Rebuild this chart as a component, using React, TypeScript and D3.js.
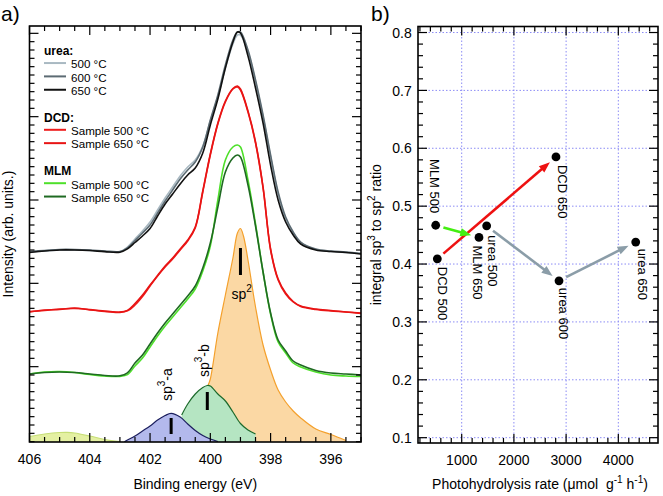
import React from 'react';
import * as d3 from 'd3';

// ---------- Panel a: XPS N1s spectra ----------
const energyGrid = [406, 405.5, 405, 404.5, 404, 403.5, 403, 402.75, 402.5, 402.25, 402, 401.75, 401.5, 401.25, 401, 400.75, 400.5, 400.25, 400, 399.75, 399.5, 399.25, 399.1, 399, 398.75, 398.5, 398.25, 398, 397.75, 397.5, 397.25, 397, 396.5, 396, 395.5, 395];

const urea500 = [2376, 2388, 2400, 2400, 2394, 2382, 2380, 2436, 2532, 2628, 2736, 2880, 3024, 3156, 3288, 3396, 3480, 3648, 3948, 4236, 4584, 4872, 4980, 4980, 4776, 4416, 3996, 3516, 3072, 2772, 2604, 2484, 2406, 2382, 2370, 2358];
const urea600 = [2382, 2394, 2406, 2406, 2400, 2388, 2382, 2426, 2514, 2604, 2700, 2844, 2988, 3120, 3252, 3360, 3456, 3636, 3960, 4260, 4620, 4920, 5016, 5016, 4800, 4440, 4020, 3540, 3096, 2796, 2616, 2496, 2412, 2388, 2376, 2358];
const urea650 = [2370, 2388, 2400, 2400, 2394, 2380, 2374, 2414, 2490, 2568, 2658, 2808, 2952, 3072, 3192, 3300, 3384, 3564, 3900, 4212, 4584, 4896, 5016, 5004, 4728, 4344, 3924, 3420, 3000, 2736, 2580, 2472, 2400, 2382, 2370, 2352];
const dcd500 = [1662, 1674, 1692, 1698, 1686, 1662, 1652, 1670, 1740, 1842, 1968, 2088, 2196, 2292, 2400, 2508, 2664, 3096, 3540, 3912, 4176, 4332, 4356, 4320, 4056, 3684, 3144, 2400, 2040, 1872, 1776, 1722, 1686, 1668, 1656, 1638];
const dcd650 = [1656, 1680, 1686, 1704, 1680, 1668, 1654, 1676, 1758, 1860, 1980, 2094, 2208, 2304, 2412, 2520, 2676, 3108, 3552, 3924, 4188, 4338, 4368, 4332, 4068, 3696, 3156, 2412, 2052, 1884, 1782, 1728, 1692, 1674, 1656, 1644];
const mlm500 = [912, 936, 942, 930, 906, 888, 884, 904, 1008, 1104, 1236, 1368, 1488, 1596, 1704, 1812, 1932, 2148, 2448, 3000, 3480, 3636, 3660, 3636, 3240, 2712, 2136, 1632, 1296, 1164, 1044, 996, 936, 900, 888, 882];
const mlm650 = [912, 930, 936, 930, 912, 894, 890, 926, 1044, 1140, 1272, 1404, 1524, 1632, 1740, 1848, 1968, 2184, 2484, 2916, 3336, 3504, 3540, 3516, 3180, 2688, 2136, 1644, 1320, 1188, 1068, 1020, 954, 924, 912, 900];

// fitted components
const sp2Energy = [400.07, 400, 399.75, 399.5, 399.25, 399.1, 399, 398.9, 398.75, 398.5, 398.25, 398, 397.75, 397.5, 397.25, 397, 396.5, 396, 395.5];
const sp2Intensity = [780, 852, 1404, 1860, 2304, 2604, 2658, 2568, 2280, 1716, 1260, 960, 720, 576, 468, 384, 252, 186, 114];
const sp3bEnergy = [400.95, 400.75, 400.5, 400.25, 400.1, 400, 399.75, 399.5, 399.25, 399, 398.75, 398.5];
const sp3bIntensity = [420, 552, 672, 750, 774, 768, 672, 588, 456, 318, 240, 192];
const sp3aEnergy = [402.85, 402.75, 402.5, 402.25, 402, 401.75, 401.5, 401.3, 401, 400.75, 400.5, 400.25, 400, 399.75];
const sp3aIntensity = [100, 120, 168, 228, 288, 360, 414, 440, 396, 312, 234, 174, 132, 102];
const satEnergy = [406, 405.5, 405, 404.75, 404.5, 404, 403.5, 403];
const satIntensity = [162, 192, 210, 212, 204, 168, 126, 100];
const peakEnergies = [399.0, 400.1, 401.3];

const energyTicks = [406, 404, 402, 400, 398, 396];

const legendTitles = ['urea:', 'DCD:', 'MLM'];
const legendItems = [
  ['500 °C', '600 °C', '650 °C'],
  ['Sample 500 °C', 'Sample 650 °C'],
  ['Sample 500 °C', 'Sample 650 °C'],
];

// ---------- Panel b: ratio vs rate ----------
const sampleLabels = ['MLM 500', 'DCD 500', 'MLM 650', 'urea 500', 'DCD 650', 'urea 600', 'urea 650'];
const rateValues = [502, 533, 1331, 1478, 2806, 2864, 4333];
const ratioValues = [0.467, 0.409, 0.446, 0.466, 0.585, 0.371, 0.438];
const arrowLinks = [
  [1, 4],
  [0, 2],
  [3, 5],
  [5, 6],
];
const rateTicks = [1000, 2000, 3000, 4000];
const ratioTicks = [0.1, 0.2, 0.3, 0.4, 0.5, 0.6, 0.7, 0.8];

// ---------- styles ----------
const FONT = '"Liberation Sans", Arial, Helvetica, sans-serif';
const seriesColors = ['#a9b9c2', '#5c6b73', '#111111', '#ee1c1c', '#e81414', '#4ee02a', '#1f6a22'];
const legendColors = [
  ['#a9b9c2', '#5c6b73', '#111111'],
  ['#ee1c1c', '#e81414'],
  ['#4ee02a', '#1f6a22'],
];
const arrowColors = ['#ee1111', '#44ee11', '#8b9da8', '#8b9da8'];
const labelLayout = [
  { dx: -5.7, dy: -12, anchor: 'end' },
  { dx: 0.7, dy: 8, anchor: 'start' },
  { dx: -6, dy: 8, anchor: 'start' },
  { dx: 1.3, dy: 9.3, anchor: 'start' },
  { dx: 2, dy: 8, anchor: 'start' },
  { dx: 0, dy: 7, anchor: 'start' },
  { dx: 2.3, dy: 6.6, anchor: 'start' },
];

export default function App() {
  const A = { left: 29.5, right: 361, top: 26, bottom: 442 };
  const B = { left: 418, right: 658, top: 26.5, bottom: 443 };

  const xA = d3.scaleLinear().domain([406, 395]).range([A.left, A.right]);
  const yA = d3.scaleLinear().domain([96, 5088]).range([A.bottom, A.top]);
  const xB = d3.scaleLinear().domain([163, 4760]).range([B.left, B.right]);
  const yB = d3.scaleLinear().domain([0.0908, 0.8104]).range([B.bottom, B.top]);

  const curve = d3.curveCatmullRom.alpha(0.5);
  const mkLine = (es: number[], vs: number[]) =>
    d3.line<number>().x((_, i) => xA(es[i])).y((d) => yA(d)).curve(curve)(vs) || '';
  const mkArea = (es: number[], vs: number[]) =>
    d3.area<number>().x((_, i) => xA(es[i])).y0(yA(96)).y1((d) => yA(d)).curve(curve)(vs) || '';

  const spectra = [urea500, urea600, urea650, dcd500, dcd650, mlm500, mlm650];

  // ticks
  const eMinor = d3.range(0, 23).map((i) => 395 + i * 0.5);
  const iMinor = d3.range(1, 51).map((i) => i * 100);
  const rMinor = d3.range(1, 24).map((i) => i * 200);
  const qMinor = d3.range(5, 41).map((i) => Math.round(i * 2) / 100);

  const tickStroke = { stroke: '#000', strokeWidth: 1.2 };

  const components = [
    { e: sp2Energy, v: sp2Intensity, fill: '#fbd8a4', stroke: '#f4a02c' },
    { e: sp3bEnergy, v: sp3bIntensity, fill: '#b5e5c2', stroke: '#1d6a2c' },
    { e: sp3aEnergy, v: sp3aIntensity, fill: '#b3b9ec', stroke: '#1c1f5e' },
    { e: satEnergy, v: satIntensity, fill: '#e4f0a2', stroke: '#c6de76' },
  ];

  // legend rows
  const legendRows: any[] = [];
  let row = 0;
  legendTitles.forEach((t, g) => {
    legendRows.push({ type: 'title', text: t, row });
    row++;
    legendItems[g].forEach((it, k) => {
      legendRows.push({ type: 'item', text: it, row, color: legendColors[g][k] });
      row++;
    });
    row++;
  });

  const pts = rateValues.map((r, i) => [xB(r), yB(ratioValues[i])]);

  return (
    <svg
      width={663}
      height={496}
      style={{ position: 'absolute', left: 0, top: 0, background: '#fff', fontFamily: FONT }}
    >
      <defs>
        <clipPath id="clipA">
          <rect x={A.left} y={A.top} width={A.right - A.left} height={A.bottom - A.top} />
        </clipPath>
      </defs>
      <rect x={0} y={0} width={663} height={496} fill="#fff" />

      {/* ===== Panel a ===== */}
      <text x={1} y={21} fontSize={21} fill="#000">a)</text>
      <g clipPath="url(#clipA)">
        {components.map((c, i) => (
          <g key={i}>
            <path d={mkArea(c.e, c.v)} fill={c.fill} />
            <path d={mkLine(c.e, c.v)} fill="none" stroke={c.stroke} strokeWidth={1.2} />
          </g>
        ))}
        {spectra.map((s, i) => (
          <path key={i} d={mkLine(energyGrid, s)} fill="none" stroke={seriesColors[i]} strokeWidth={1.6} />
        ))}
      </g>
      {/* component markers */}
      <line x1={xA(peakEnergies[0])} x2={xA(peakEnergies[0])} y1={248} y2={275} stroke="#000" strokeWidth={3} />
      <line x1={xA(peakEnergies[1])} x2={xA(peakEnergies[1])} y1={392} y2={410} stroke="#000" strokeWidth={3} />
      <line x1={xA(peakEnergies[2])} x2={xA(peakEnergies[2])} y1={418} y2={434} stroke="#000" strokeWidth={3} />
      <text x={231.5} y={298.5} fontSize={14} fill="#000">
        sp<tspan fontSize={10} dy={-7}>2</tspan>
      </text>
      <text transform="translate(209,377) rotate(-90)" fontSize={14} fill="#000">
        sp<tspan fontSize={10} dy={-7}>3</tspan><tspan dy={7}>-b</tspan>
      </text>
      <text transform="translate(172,401) rotate(-90)" fontSize={14} fill="#000">
        sp<tspan fontSize={10} dy={-7}>3</tspan><tspan dy={7}>-a</tspan>
      </text>

      {/* legend */}
      {legendRows.map((r, i) => {
        const by = 55 + r.row * 13.35;
        if (r.type === 'title')
          return (
            <text key={i} x={44} y={by} fontSize={12} fontWeight="bold" fill="#000">{r.text}</text>
          );
        return (
          <g key={i}>
            <line x1={44} x2={66} y1={by - 5.3} y2={by - 5.3} stroke={r.color} strokeWidth={2} />
            <text x={71} y={by} fontSize={11.6} fill="#000">{r.text}</text>
          </g>
        );
      })}

      {/* ticks a */}
      {eMinor.map((e, i) => {
        const major = Math.abs(e % 2) < 1e-6;
        const L = major ? 9 : 5;
        const x = xA(e);
        return (
          <g key={i}>
            <line x1={x} x2={x} y1={A.bottom} y2={A.bottom - L} {...tickStroke} />
            <line x1={x} x2={x} y1={A.top} y2={A.top + L} {...tickStroke} />
          </g>
        );
      })}
      {iMinor.map((v, i) => {
        const major = v % 1000 === 0;
        const L = major ? 9 : 5;
        const y = yA(v);
        return (
          <g key={i}>
            <line x1={A.left} x2={A.left + L} y1={y} y2={y} {...tickStroke} />
            <line x1={A.right} x2={A.right - L} y1={y} y2={y} {...tickStroke} />
          </g>
        );
      })}
      <rect x={A.left} y={A.top} width={A.right - A.left} height={A.bottom - A.top} fill="none" stroke="#000" strokeWidth={1.6} />
      {energyTicks.map((e) => (
        <text key={e} x={xA(e)} y={464} fontSize={14} textAnchor="middle" fill="#000">{e}</text>
      ))}
      <text x={(A.left + A.right) / 2} y={488.5} fontSize={14} textAnchor="middle" fill="#000">Binding energy (eV)</text>
      <text transform={`translate(13,${(A.top + A.bottom) / 2}) rotate(-90)`} fontSize={14} textAnchor="middle" fill="#000">
        Intensity (arb. units.)
      </text>

      {/* ===== Panel b ===== */}
      <text x={371} y={21} fontSize={21} fill="#000">b)</text>
      {rateTicks.map((r) => (
        <line key={r} x1={xB(r)} x2={xB(r)} y1={B.top} y2={B.bottom} stroke="#8c8cf5" strokeWidth={1} strokeDasharray="1.5,2" />
      ))}
      {ratioTicks.map((q) => (
        <line key={q} x1={B.left} x2={B.right} y1={yB(q)} y2={yB(q)} stroke="#8c8cf5" strokeWidth={1} strokeDasharray="1.5,2" />
      ))}
      {rMinor.map((r, i) => {
        const major = r % 1000 === 0;
        const L = major ? 9 : 5;
        const x = xB(r);
        return (
          <g key={i}>
            <line x1={x} x2={x} y1={B.bottom} y2={B.bottom - L} {...tickStroke} />
            <line x1={x} x2={x} y1={B.top} y2={B.top + L} {...tickStroke} />
          </g>
        );
      })}
      {qMinor.map((q, i) => {
        const major = Math.round(q * 100) % 10 === 0;
        const L = major ? 9 : 5;
        const y = yB(q);
        return (
          <g key={i}>
            <line x1={B.left} x2={B.left + L} y1={y} y2={y} {...tickStroke} />
            <line x1={B.right} x2={B.right - L} y1={y} y2={y} {...tickStroke} />
          </g>
        );
      })}
      <rect x={B.left} y={B.top} width={B.right - B.left} height={B.bottom - B.top} fill="none" stroke="#000" strokeWidth={1.6} />

      {/* arrows */}
      {arrowLinks.map(([a, b], i) => {
        const [x0, y0] = pts[a];
        const [x1, y1] = pts[b];
        const dx = x1 - x0;
        const dy = y1 - y0;
        const len = Math.hypot(dx, dy);
        const ux = dx / len;
        const uy = dy / len;
        const sx = x0 + ux * 8;
        const sy = y0 + uy * 8;
        const tx = x1 - ux * 8;
        const ty = y1 - uy * 8;
        const hl = 11;
        const hw = 4.2;
        const bx = tx - ux * hl;
        const by = ty - uy * hl;
        const poly = `${tx},${ty} ${bx - uy * hw},${by + ux * hw} ${bx + uy * hw},${by - ux * hw}`;
        return (
          <g key={i}>
            <line x1={sx} y1={sy} x2={bx + ux * 2} y2={by + uy * 2} stroke={arrowColors[i]} strokeWidth={2.6} />
            <polygon points={poly} fill={arrowColors[i]} />
          </g>
        );
      })}

      {pts.map(([x, y], i) => (
        <circle key={i} cx={x} cy={y} r={4.4} fill="#000" />
      ))}
      {pts.map(([x, y], i) => {
        const L = labelLayout[i];
        return (
          <text
            key={i}
            transform={`translate(${x + L.dx},${y + L.dy}) rotate(90)`}
            textAnchor={L.anchor}
            fontSize={13}
            fill="#000"
          >
            {sampleLabels[i]}
          </text>
        );
      })}

      {rateTicks.map((r) => (
        <text key={r} x={xB(r)} y={465} fontSize={14} textAnchor="middle" fill="#000">{r}</text>
      ))}
      {ratioTicks.map((q) => (
        <text key={q} x={411.7} y={yB(q) + 5.2} fontSize={14} textAnchor="end" fill="#000">{q.toFixed(1)}</text>
      ))}
      <text x={(B.left + B.right) / 2 + 2} y={489} fontSize={14} textAnchor="middle" fill="#000" style={{ whiteSpace: 'pre' }}>
        Photohydrolysis rate (μmol  g<tspan fontSize={10} dy={-6}>-1</tspan><tspan dy={6}> h</tspan><tspan fontSize={10} dy={-6}>-1</tspan><tspan dy={6}>)</tspan>
      </text>
      <text transform={`translate(381,${(B.top + B.bottom) / 2}) rotate(-90)`} fontSize={14} textAnchor="middle" fill="#000">
        integral sp<tspan fontSize={10} dy={-6}>3</tspan><tspan dy={6}> to sp</tspan><tspan fontSize={10} dy={-6}>2</tspan><tspan dy={6}> ratio</tspan>
      </text>
    </svg>
  );
}
